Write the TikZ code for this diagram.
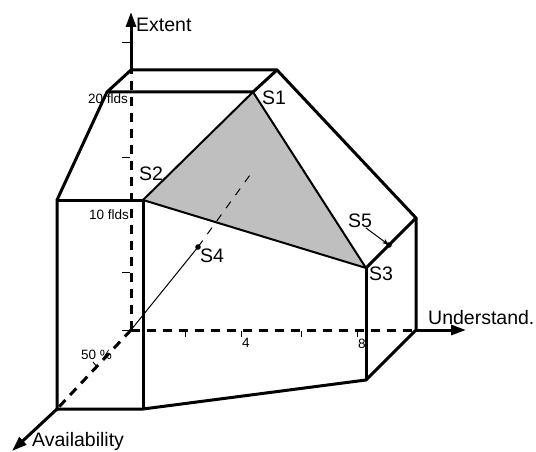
\documentclass[tikz,border=0pt]{standalone}
\usepackage{fontspec}
\setmainfont{Liberation Sans}
\usetikzlibrary{arrows.meta}
\begin{document}
\begin{tikzpicture}[x=1pt,y=-1pt,
  edge/.style={line width=3pt,line join=miter,line cap=butt},
  tri/.style={line width=2pt},
  axdash/.style={line width=3pt,dash pattern=on 9pt off 7pt},
  thinl/.style={line width=1pt},
  tick/.style={line width=0.9pt},
  big/.style={font=\fontsize{19.5}{22}\selectfont,inner sep=0pt,anchor=base west},
  small/.style={font=\fontsize{13.5}{16}\selectfont,inner sep=0pt,anchor=base west},
  head/.style={-{Triangle[length=15pt,width=10pt]}}]
\useasboundingbox (0,0) rectangle (536,452);
% vertices
\coordinate (O) at (131,330);
\coordinate (TBL) at (131,70);
\coordinate (TBR) at (277,70);
\coordinate (TFL) at (107,92);
\coordinate (S1) at (253,92);
\coordinate (FTL) at (57,200);
\coordinate (S2) at (143,200);
\coordinate (FBL) at (57,409);
\coordinate (FBR) at (143,409);
\coordinate (RT) at (416,218);
\coordinate (RB) at (416,330);
\coordinate (S3) at (366,268);
\coordinate (BB) at (366,380);
\coordinate (S4) at (198,247);
\coordinate (S4e) at (250,175);
\coordinate (S5) at (389,245);
\coordinate (S5s) at (366,228);
\coordinate (ExT) at (131,12);
\coordinate (UnT) at (466,330);
\coordinate (AvT) at (12,451);
% gray triangle
\fill[gray!50] (S1) -- (S2) -- (S3) -- cycle;
% dashed axes
\draw[axdash] (O) -- (TBL);
\draw[axdash] (O) -- (RB);
\draw[axdash] (O) -- (FBL);
% S4 line
\draw[thinl] (O) -- (S4);
\draw[thinl,dash pattern=on 8pt off 8pt] (S4) -- (S4e);
\fill (S4) circle (2.8pt);
% box edges
\draw[edge] (TBL) -- (TBR) -- (RT) -- (RB) -- (BB) -- (FBR) -- (FBL) -- (FTL) -- (TFL) -- (TBL);
\draw[edge] (TFL) -- (S1) -- (TBR);
\draw[edge] (FTL) -- (S2) -- (FBR);
\draw[edge] (S3) -- (BB);
\draw[edge] (S3) -- (RT);
\draw[tri] (S2) -- (S1);
\draw[tri] (S1) -- (S3) -- (S2);
% S5
\fill (S5) circle (2.8pt);
\draw[thinl,-{Stealth[length=7pt,width=5pt]}] (S5s) -- (S5);
% solid axis ends
\draw[edge,head] (TBL) -- (ExT);
\draw[edge,head] (RB) -- (UnT);
\draw[edge,head] (FBL) -- (AvT);
% ticks on Extent
\foreach \y in {42,157,272,330} \draw[tick] (122,\y) -- (130,\y);
% ticks on Understand
\foreach \x in {185,241,301,357} \draw[tick] (\x,331) -- (\x,337);
% tick on Availability
\draw[tick] (93,362) -- (97,367);
% labels
\node[big] (lE) at (136,32) {Extent};
\node[big] (lU) at (428,324) {Understand.};
\node[big] (lA) at (32,446) {Availability};
\node[big] (l1) at (262,104) {S1};
\node[big] (l2) at (139,180) {S2};
\node[big] (l3) at (369,280) {S3};
\node[big] (l4) at (200,262) {S4};
\node[big] (l5) at (348,227) {S5};
\node[small] (f20) at (88,103) {20 flds};
\node[small] (f10) at (89,219) {10 flds};
\node[small] (n4) at (242,347) {4};
\node[small] (n8) at (358,348) {8};
\node[small] (p50) at (81,359) {50 \%};
\end{tikzpicture}
\end{document}
